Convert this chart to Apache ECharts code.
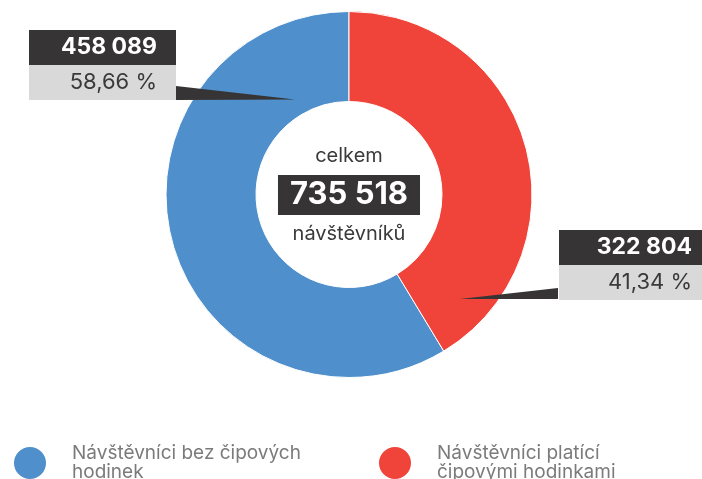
<!DOCTYPE html>
<html>
<head>
<meta charset="utf-8">
<script src="https://cdn.jsdelivr.net/npm/echarts@6/dist/echarts.min.js"></script>
<style>
  html, body { margin: 0; padding: 0; background: #fff; }
  #chart { width: 702px; height: 479px; }
</style>
</head>
<body>
<div id="chart"></div>
<script>
// Visitor split: with / without chip watches
const categories = ['Návštěvníci bez čipových hodinek', 'Návštěvníci platící čipovými hodinkami'];
const legendLabels = ['Návštěvníci bez čipových\nhodinek', 'Návštěvníci platící\nčipovými hodinkami'];
const visitorCounts = [458089, 322804];
const sharePercent = [58.66, 41.34];
const totalVisitors = 735518;
const colors = ['#4f8fcb', '#f0433a'];

const FONT = 'Inter, "Noto Sans", sans-serif';
const DARK = '#363435';
const LIGHT = '#d9d9d9';

function fmtThousands(n) {
  return String(n).replace(/\B(?=(\d{3})+(?!\d))/g, ' ');
}
function fmtPercent(p) {
  return p.toFixed(2).replace('.', ',') + ' %';
}

// Right edge, top and inner width of each label block (value box on top, share box below)
const labelAnchors = [
  { x: 176, y: 30, w: 128 },
  { x: 711, y: 230, w: 133 }
];

function labelRich() {
  const rich = {};
  labelAnchors.forEach((a, i) => {
    rich['v' + i] = {
      fontFamily: FONT, fontSize: 23, fontWeight: 'bold', color: '#fff',
      backgroundColor: DARK, width: a.w, height: 35, lineHeight: 35,
      align: 'right', padding: [0, 19, 0, 0]
    };
    rich['p' + i] = {
      fontFamily: FONT, fontSize: 22, color: '#3a3a3a',
      backgroundColor: LIGHT, width: a.w, height: 35, lineHeight: 35,
      align: 'right', padding: [0, 19, 0, 0]
    };
  });
  return rich;
}

const chart = echarts.init(document.getElementById('chart'), null, { renderer: 'canvas' });

const legendBase = {
  orient: 'horizontal',
  top: 444,
  padding: 0,
  icon: 'circle',
  itemWidth: 34,
  itemHeight: 34,
  selectedMode: false,
  textStyle: {
    fontFamily: FONT,
    fontSize: 19,
    lineHeight: 19,
    color: '#7b7b7b',
    padding: [0, 0, 0, 20]
  },
  formatter: name => legendLabels[categories.indexOf(name)]
};

chart.setOption({
  animation: false,
  backgroundColor: '#fff',
  legend: [
    Object.assign({}, legendBase, { left: 12, data: [categories[0]] }),
    Object.assign({}, legendBase, { left: 377, data: [categories[1]] })
  ],
  series: [{
    type: 'pie',
    center: [349, 194.5],
    radius: [93, 183],
    startAngle: 90,
    clockwise: false,
    silent: true,
    emphasis: { disabled: true },
    itemStyle: { borderColor: '#fff', borderWidth: 1 },
    labelLine: { show: false },
    label: {
      show: true,
      position: 'outside',
      alignTo: 'none',
      overflow: 'none',
      formatter: p => {
        const i = p.dataIndex;
        return `{v${i}|${fmtThousands(visitorCounts[i])}}\n{p${i}|${fmtPercent(sharePercent[i])}}`;
      },
      rich: labelRich()
    },
    labelLayout: params => {
      const a = labelAnchors[params.dataIndex];
      return { x: a.x, y: a.y, align: 'right', verticalAlign: 'top' };
    },
    data: categories.map((name, i) => ({
      name,
      value: sharePercent[i],
      itemStyle: { color: colors[i] }
    }))
  }],
  graphic: [
    // tapered pointers from the label boxes into the ring
    {
      type: 'polygon', z: 100,
      shape: { points: [[176, 86], [176, 100], [295, 99.5]] },
      style: { fill: DARK }
    },
    {
      type: 'polygon', z: 100,
      shape: { points: [[558, 288], [558, 299], [460, 299]] },
      style: { fill: DARK }
    },
    // total in the donut hole
    {
      type: 'text', z: 100,
      x: 349, y: 195,
      style: {
        text: `{a|celkem}\n{b|${fmtThousands(totalVisitors)}}\n{a|návštěvníků}`,
        align: 'center',
        verticalAlign: 'middle',
        rich: {
          a: { fontFamily: FONT, fontSize: 20, fill: '#3a3a3a', lineHeight: 38, align: 'center' },
          b: {
            fontFamily: FONT, fontSize: 31, fontWeight: 'bold', fill: '#fff',
            backgroundColor: DARK, height: 40, lineHeight: 40, padding: [0, 12], align: 'center'
          }
        }
      }
    }
  ]
});
</script>
</body>
</html>
